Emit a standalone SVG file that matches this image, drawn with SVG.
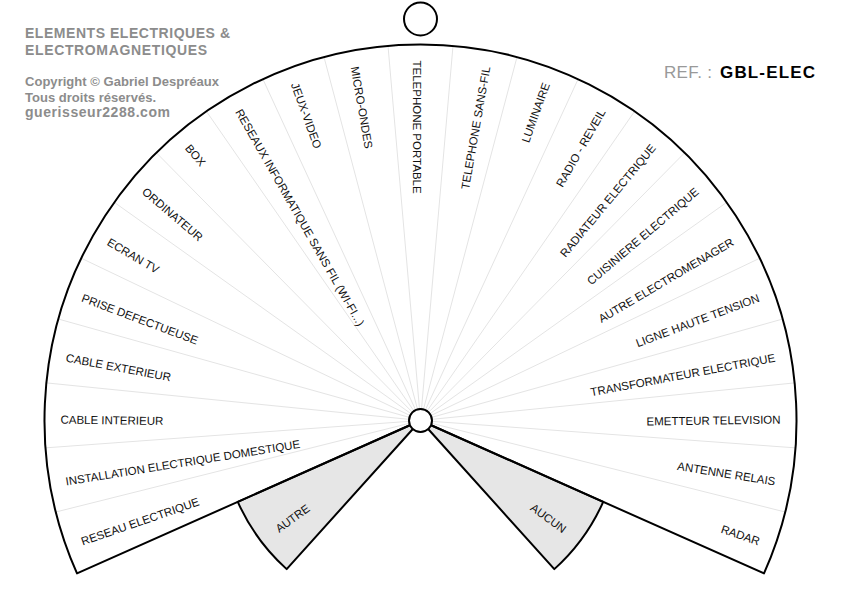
<svg xmlns="http://www.w3.org/2000/svg" width="842" height="595" viewBox="0 0 842 595">
<style>
text{font-family:"Liberation Sans",Arial,Helvetica,sans-serif}
.hd{font-weight:bold;fill:#8c8c8c}
.lb{font-size:11.5px;fill:#111}
.ls{text-anchor:start}
.rs{text-anchor:end}
.div{stroke:#e4e4e4;stroke-width:1;fill:none}
.edge{stroke:#000;stroke-width:2;stroke-linejoin:round}
</style>
<rect width="842" height="595" fill="#fff"/>
<g id="header">
<text class="hd" x="25" y="38" font-size="14" textLength="205" lengthAdjust="spacing">ELEMENTS ELECTRIQUES &amp;</text>
<text class="hd" x="25" y="54.5" font-size="14" textLength="182" lengthAdjust="spacing">ELECTROMAGNETIQUES</text>
<text class="hd" x="25" y="86" font-size="13" textLength="194" lengthAdjust="spacing">Copyright © Gabriel Despréaux</text>
<text class="hd" x="25" y="101.5" font-size="13" textLength="131" lengthAdjust="spacing">Tous droits réservés.</text>
<text class="hd" x="25" y="117" font-size="14" textLength="145" lengthAdjust="spacing">guerisseur2288.com</text>
</g>
<g id="ref">
<text x="664" y="78" font-size="17" fill="#999" textLength="48" lengthAdjust="spacing">REF. :</text>
<text x="720" y="78" font-size="17" font-weight="bold" fill="#000" textLength="95" lengthAdjust="spacing">GBL-ELEC</text>
</g>
<g id="top-ring">
<circle cx="420.5" cy="19" r="16.5" fill="#fff" stroke="#000" stroke-width="2"/>
</g>
<g id="fan">
<path d="M420.5,420.5 L77.01,573.43 A376,376 0 1 1 763.99,573.43 Z" fill="#fff"/>
</g>
<g id="connectors" class="div">
<line x1="420.5" y1="420.5" x2="55.81" y2="512.01"/>
<line x1="420.5" y1="420.5" x2="45.50" y2="447.87"/>
<line x1="420.5" y1="420.5" x2="46.38" y2="382.90"/>
<line x1="420.5" y1="420.5" x2="58.44" y2="319.06"/>
<line x1="420.5" y1="420.5" x2="81.31" y2="258.24"/>
<line x1="420.5" y1="420.5" x2="114.29" y2="202.31"/>
<line x1="420.5" y1="420.5" x2="156.45" y2="152.83"/>
<line x1="420.5" y1="420.5" x2="206.45" y2="111.38"/>
<line x1="420.5" y1="420.5" x2="262.88" y2="79.13"/>
<line x1="420.5" y1="420.5" x2="324.01" y2="57.09"/>
<line x1="420.5" y1="420.5" x2="388.01" y2="45.91"/>
<line x1="420.5" y1="420.5" x2="452.99" y2="45.91"/>
<line x1="420.5" y1="420.5" x2="516.99" y2="57.09"/>
<line x1="420.5" y1="420.5" x2="578.12" y2="79.13"/>
<line x1="420.5" y1="420.5" x2="634.55" y2="111.38"/>
<line x1="420.5" y1="420.5" x2="684.55" y2="152.83"/>
<line x1="420.5" y1="420.5" x2="726.71" y2="202.31"/>
<line x1="420.5" y1="420.5" x2="759.69" y2="258.24"/>
<line x1="420.5" y1="420.5" x2="782.56" y2="319.06"/>
<line x1="420.5" y1="420.5" x2="794.62" y2="382.90"/>
<line x1="420.5" y1="420.5" x2="795.50" y2="447.87"/>
<line x1="420.5" y1="420.5" x2="785.19" y2="512.01"/>
</g>
<g id="sector-autre">
<path class="edge" d="M420.5,420.5 L286.67,569.13 A200,200 0 0 1 237.79,501.85 Z" fill="#e6e6e6"/>
<text class="lb" x="259.5" y="428.5" text-anchor="middle" transform="rotate(-36 420.5 420.5)">AUTRE</text>
</g>
<g id="sector-aucun">
<path class="edge" d="M420.5,420.5 L603.21,501.85 A200,200 0 0 1 554.33,569.13 Z" fill="#e6e6e6"/>
<text class="lb" x="581.5" y="428.5" text-anchor="middle" transform="rotate(36 420.5 420.5)">AUCUN</text>
</g>
<g id="fan-outline">
<path class="edge" d="M420.5,420.5 L77.01,573.43 A376,376 0 1 1 763.99,573.43 Z" fill="none"/>
</g>
<g id="labels">
<g id="s00"><text class="lb ls" x="60.5" y="428.5" transform="rotate(-19.043 420.5 420.5)">RESEAU ELECTRIQUE</text></g>
<g id="s01"><text class="lb ls" x="60.5" y="428.5" transform="rotate(-9.130 420.5 420.5)">INSTALLATION ELECTRIQUE DOMESTIQUE</text></g>
<g id="s02"><text class="lb ls" x="60.5" y="428.5" transform="rotate(0.783 420.5 420.5)">CABLE INTERIEUR</text></g>
<g id="s03"><text class="lb ls" x="60.5" y="428.5" transform="rotate(10.696 420.5 420.5)">CABLE EXTERIEUR</text></g>
<g id="s04"><text class="lb ls" x="60.5" y="428.5" transform="rotate(20.609 420.5 420.5)">PRISE DEFECTUEUSE</text></g>
<g id="s05"><text class="lb ls" x="60.5" y="428.5" transform="rotate(30.522 420.5 420.5)">ECRAN TV</text></g>
<g id="s06"><text class="lb ls" x="60.5" y="428.5" transform="rotate(40.435 420.5 420.5)">ORDINATEUR</text></g>
<g id="s07"><text class="lb ls" x="60.5" y="428.5" transform="rotate(50.348 420.5 420.5)">BOX</text></g>
<g id="s08"><text class="lb ls" x="60.5" y="428.5" transform="rotate(60.261 420.5 420.5)">RESEAUX INFORMATIQUE SANS FIL (WI-FI...)</text></g>
<g id="s09"><text class="lb ls" x="60.5" y="428.5" transform="rotate(70.174 420.5 420.5)">JEUX-VIDEO</text></g>
<g id="s10"><text class="lb ls" x="60.5" y="428.5" transform="rotate(80.087 420.5 420.5)">MICRO-ONDES</text></g>
<g id="s11"><text class="lb ls" x="60.5" y="428.5" transform="rotate(90 420.5 420.5)">TELEPHONE PORTABLE</text></g>
<g id="s12"><text class="lb rs" x="780.5" y="428.5" transform="rotate(-80.087 420.5 420.5)">TELEPHONE SANS-FIL</text></g>
<g id="s13"><text class="lb rs" x="780.5" y="428.5" transform="rotate(-70.174 420.5 420.5)">LUMINAIRE</text></g>
<g id="s14"><text class="lb rs" x="780.5" y="428.5" transform="rotate(-60.261 420.5 420.5)">RADIO - REVEIL</text></g>
<g id="s15"><text class="lb rs" x="780.5" y="428.5" transform="rotate(-50.348 420.5 420.5)">RADIATEUR ELECTRIQUE</text></g>
<g id="s16"><text class="lb rs" x="780.5" y="428.5" transform="rotate(-40.435 420.5 420.5)">CUISINIERE ELECTRIQUE</text></g>
<g id="s17"><text class="lb rs" x="780.5" y="428.5" transform="rotate(-30.522 420.5 420.5)">AUTRE ELECTROMENAGER</text></g>
<g id="s18"><text class="lb rs" x="780.5" y="428.5" transform="rotate(-20.609 420.5 420.5)">LIGNE HAUTE TENSION</text></g>
<g id="s19"><text class="lb rs" x="780.5" y="428.5" transform="rotate(-10.696 420.5 420.5)">TRANSFORMATEUR ELECTRIQUE</text></g>
<g id="s20"><text class="lb rs" x="780.5" y="428.5" transform="rotate(-0.783 420.5 420.5)">EMETTEUR TELEVISION</text></g>
<g id="s21"><text class="lb rs" x="780.5" y="428.5" transform="rotate(9.130 420.5 420.5)">ANTENNE RELAIS</text></g>
<g id="s22"><text class="lb rs" x="780.5" y="428.5" transform="rotate(19.043 420.5 420.5)">RADAR</text></g>
</g>
<g id="hub">
<circle cx="420.5" cy="420.5" r="11.5" fill="#fff" stroke="#000" stroke-width="2"/>
</g>
</svg>
